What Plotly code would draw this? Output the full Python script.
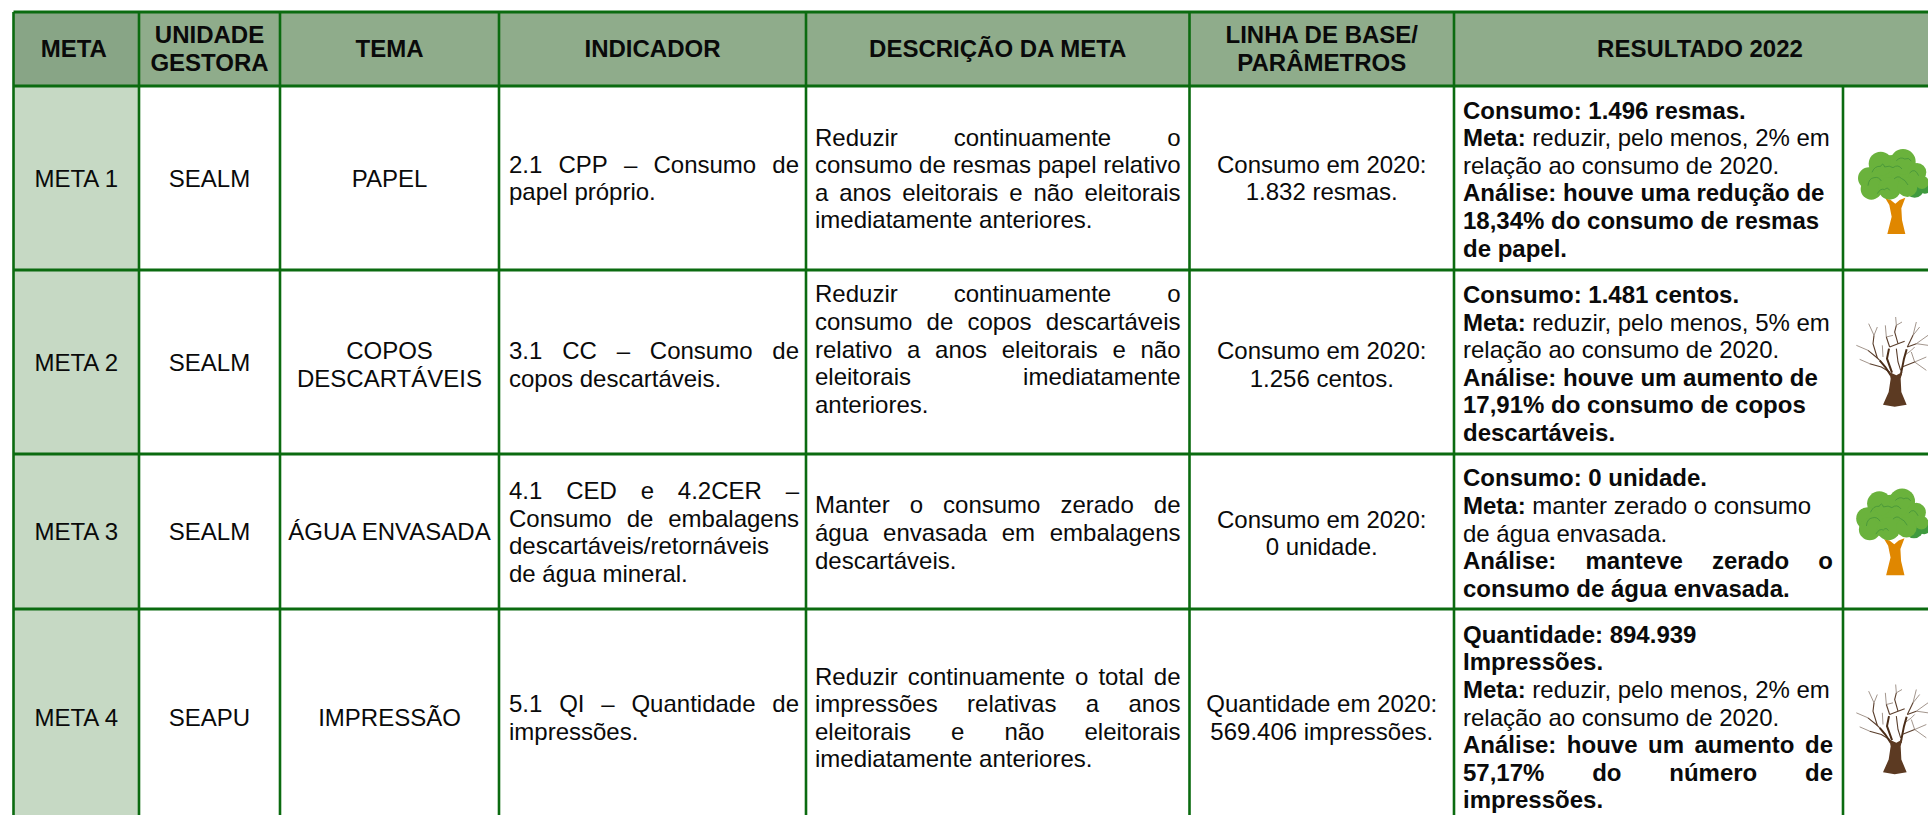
import plotly.graph_objects as go

# ---------- chart content ----------
HEADERS = [["META"], ["UNIDADE", "GESTORA"], ["TEMA"], ["INDICADOR"], ["DESCRIÇÃO DA META"],
           ["LINHA DE BASE/", "PARÂMETROS"], ["RESULTADO 2022"]]
META = ["META 1", "META 2", "META 3", "META 4"]
UNIDADE = ["SEALM", "SEALM", "SEALM", "SEAPU"]
TEMA = [["PAPEL"], ["COPOS", "DESCARTÁVEIS"], ["ÁGUA ENVASADA"], ["IMPRESSÃO"]]
# A line starting with "|" is justified across the cell.
INDICADOR = [
    ["|2.1 CPP – Consumo de", "papel próprio."],
    ["|3.1 CC – Consumo de", "copos descartáveis."],
    ["|4.1 CED e 4.2CER –", "|Consumo de embalagens", "descartáveis/retornáveis", "de água mineral."],
    ["|5.1 QI – Quantidade de", "impressões."],
]
DESCRICAO = [
    ["|Reduzir continuamente o", "|consumo de resmas papel relativo", "|a anos eleitorais e não eleitorais",
     "imediatamente anteriores."],
    ["|Reduzir continuamente o", "|consumo de copos descartáveis", "|relativo a anos eleitorais e não",
     "|eleitorais imediatamente", "anteriores."],
    ["|Manter o consumo zerado de", "|água envasada em embalagens", "descartáveis."],
    ["|Reduzir continuamente o total de", "|impressões relativas a anos", "|eleitorais e não eleitorais",
     "imediatamente anteriores."],
]
BASE = [
    ["Consumo em 2020:", "1.832 resmas."],
    ["Consumo em 2020:", "1.256 centos."],
    ["Consumo em 2020:", "0 unidade."],
    ["Quantidade em 2020:", "569.406 impressões."],
]
RESULTADO = [
    ["<b>Consumo: 1.496 resmas.</b>", "<b>Meta:</b> reduzir, pelo menos, 2% em", "relação ao consumo de 2020.",
     "<b>Análise: houve uma redução de</b>", "<b>18,34% do consumo de resmas</b>", "<b>de papel.</b>"],
    ["<b>Consumo: 1.481 centos.</b>", "<b>Meta:</b> reduzir, pelo menos, 5% em", "relação ao consumo de 2020.",
     "<b>Análise: houve um aumento de</b>", "<b>17,91% do consumo de copos</b>", "<b>descartáveis.</b>"],
    ["<b>Consumo: 0 unidade.</b>", "<b>Meta:</b> manter zerado o consumo", "de água envasada.",
     "|<b>Análise: manteve zerado o</b>", "<b>consumo de água envasada.</b>"],
    ["<b>Quantidade: 894.939</b>", "<b>Impressões.</b>", "<b>Meta:</b> reduzir, pelo menos, 2% em",
     "relação ao consumo de 2020.", "|<b>Análise: houve um aumento de</b>", "|<b>57,17% do número de</b>",
     "<b>impressões.</b>"],
]
TREE_ALIVE = [True, False, True, False]

# ---------- layout ----------
W, H = 1928, 815
COL = [13.5, 139, 280, 499, 806, 1189.5, 1454, 1843, 1946]
ROW = [12, 86, 270, 454, 609, 825]
FS = 24
LH = 27.6
YOFF = 2.5
LINE = "#0b6b10"
HEAD_FILL = "#8fac8b"
HEAD_FILL_FIRST = "#88a586"
META_FILL = "#c6d9c4"
INK = "#0a0a0a"

REG = dict(zip("abcdefghijklmnopqrstuvwxyz",
               [556,556,500,556,556,278,556,556,222,222,500,222,833,556,556,556,556,333,500,278,556,500,722,500,500,500]))
REG.update(zip("ABCDEFGHIJKLMNOPQRSTUVWXYZ",
               [667,667,722,722,667,611,778,722,278,500,667,556,833,722,778,667,778,722,667,611,722,667,944,667,667,611]))
BOLD = dict(zip("abcdefghijklmnopqrstuvwxyz",
                [556,611,556,611,556,333,611,611,278,278,556,278,889,611,611,611,611,389,556,333,611,556,778,556,556,500]))
BOLD.update(zip("ABCDEFGHIJKLMNOPQRSTUVWXYZ",
                [722,722,722,722,667,611,778,722,278,556,722,611,833,722,778,667,778,722,667,611,722,667,944,667,667,611]))
for t in (REG, BOLD):
    t.update({c: 556 for c in "0123456789–"})
    t.update({",": 278, ".": 278, "/": 278, "%": 889, " ": 278})
REG[":"] = 278
BOLD[":"] = 333
PLAIN = str.maketrans("áàâãéêíóôõúçÁÂÃÉÍÓÔÕÚÇ", "aaaaeeiooouc" + "AAAEIOOOUC")


def width(word, bold):
    tab = BOLD if bold else REG
    return sum(tab.get(c, 556) for c in word.translate(PLAIN)) * FS / 1000


xs, ys, texts, pos = [], [], [], []


def put(x, y, s, p):
    xs.append(x)
    ys.append(y + YOFF)
    texts.append(s)
    pos.append(p)


def block(lines, x0, x1, yc, align):
    y0 = yc - (len(lines) - 1) * LH / 2
    for i, ln in enumerate(lines):
        y = y0 + i * LH
        if ln.startswith("|"):
            raw = ln[1:]
            bold = raw.startswith("<b>")
            raw = raw.replace("<b>", "").replace("</b>", "")
            words = raw.split(" ")
            ws = [width(w, bold) for w in words]
            gap = (x1 - x0 - sum(ws)) / (len(words) - 1)
            x = x0
            for w, wd in zip(words, ws):
                put(x, y, f"<b>{w}</b>" if bold else w, "middle right")
                x += wd + gap
        elif align == "left":
            put(x0, y, ln, "middle right")
        else:
            put((x0 + x1) / 2, y, ln, "middle center")


for c, hdr in enumerate(HEADERS):
    left = COL[c] - (5 if c == 0 else 0)
    block([f"<b>{s}</b>" for s in hdr], left, COL[c + 1] if c < 6 else COL[8], 48.5, "center")
C_CELL = [178, 362, 531.5, 717]
C_TEXT = [178, 364.5, 533, 717.5]
C_IND = [178, 364.5, 532, 717.5]
C_DESC = [178.5, 349, 532.5, 717.5]
C_RES = [179, 363.5, 533, 717]
for r, yc in enumerate(C_CELL):
    block([META[r]], COL[0], COL[1], yc, "center")
    block([UNIDADE[r]], COL[1], COL[2], yc, "center")
    block(TEMA[r], COL[2], COL[3], C_TEXT[r] if r == 1 else yc, "center")
    block(INDICADOR[r], COL[3] + 10, COL[4] - 7, C_IND[r], "left")
    block(DESCRICAO[r], COL[4] + 9, COL[5] - 9, C_DESC[r], "left")
    block(BASE[r], COL[5], COL[6], C_TEXT[r], "center")
    block(RESULTADO[r], COL[6] + 9, COL[7] - 10, C_RES[r], "left")

fig = go.Figure(go.Scatter(x=xs, y=ys, text=texts, mode="text", textposition=pos, cliponaxis=False,
                           textfont=dict(family="Liberation Sans", size=FS, color=INK),
                           hoverinfo="skip", showlegend=False))

shapes = []


def rect(x0, y0, x1, y1, fill):
    shapes.append(dict(type="rect", x0=x0, y0=y0, x1=x1, y1=y1, fillcolor=fill, line_width=0, layer="below"))


def seg(x0, y0, x1, y1, w=2.6, c=LINE, layer="below"):
    shapes.append(dict(type="line", x0=x0, y0=y0, x1=x1, y1=y1, line=dict(color=c, width=w), layer=layer))


rect(COL[0], ROW[0], W + 20, ROW[1], HEAD_FILL)
rect(COL[0], ROW[0], COL[1], ROW[1], HEAD_FILL_FIRST)
rect(COL[0], ROW[1], COL[1], H + 10, META_FILL)
for i, yy in enumerate(ROW[:-1]):
    seg(COL[0], yy, W + 20, yy, 3)
for i, xx in enumerate(COL[:-1]):
    seg(xx, ROW[1] if xx == COL[7] else ROW[0], xx, H + 10, 2.6)


# ---------- tree icons (shape outlines in icon-local units, 3 units = 1 px) ----------
def T(ox, oy, k, x, y):
    return ox + x * k, oy + y * k


def poly_path(pts, ox, oy, k):
    return "M" + " L".join("%.2f,%.2f" % T(ox, oy, k, *p) for p in pts)


LOBES = [(135, 85, 55), (100, 95, 45), (175, 90, 45),
         (98, 56, 36), (165, 50, 38), (207, 82, 28), (63, 100, 33), (70, 132, 32), (125, 130, 34), (178, 126, 30), (222, 112, 20)]
SHADE = [(200, 130, 28), (230, 124, 22)]
CURLS = ["M60,122 Q62,100 78,98 Q92,94 100,108", "M72,82 Q80,62 98,64 Q105,50 110,66 Q125,60 135,68 Q150,56 162,72",
         "M145,47 Q158,34 170,42 Q182,36 190,48", "M88,146 Q98,128 110,134 Q118,124 125,136",
         "M138,102 Q150,90 160,100 Q172,104 180,120", "M185,84 Q200,66 212,92"]


def alive(ox, oy, k):
    for (cx, cy, r) in SHADE:
        x, y = T(ox, oy, k, cx, cy)
        shapes.append(dict(type="circle", x0=x - r * k, x1=x + r * k, y0=y - r * k, y1=y + r * k,
                           fillcolor="#3f9a3f", line_width=0, layer="above"))
    trunk = [(112, 160), (124, 180), (131, 215), (118, 267), (172, 267), (162, 225), (160, 190), (172, 158), (155, 165), (142, 176), (128, 165)]
    shapes.append(dict(type="path", path=poly_path(trunk, ox, oy, k) + " Z", fillcolor="#e08700", line_width=0, layer="above"))
    for (cx, cy, r) in LOBES:
        x, y = T(ox, oy, k, cx, cy)
        shapes.append(dict(type="circle", x0=x - r * k, x1=x + r * k, y0=y - r * k, y1=y + r * k,
                           fillcolor="#6ab23c", line_width=0, layer="above"))
    for d in CURLS:
        out = []
        for tok in d.replace("M", "M ").replace("Q", "Q ").split():
            if tok in "MQ":
                out.append(tok)
            else:
                a, b = map(float, tok.split(","))
                out.append("%.2f,%.2f" % T(ox, oy, k, a, b))
        shapes.append(dict(type="path", path=" ".join(out), line=dict(color="#3f8f3a", width=0.7), layer="above"))


THICK = [[(128, 190), (112, 165), (95, 145)], [(158, 190), (168, 140), (176, 112)], [(132, 182), (117, 140), (123, 110)]]
MID = [[(95, 145), (88, 138), (60, 115)], [(125, 180), (100, 165), (65, 155)], [(88, 138), (75, 95), (78, 70)],
       [(125, 105), (150, 95), (170, 88)], [(125, 105), (115, 75)], [(150, 95), (140, 60), (145, 40)],
       [(178, 105), (205, 95)], [(178, 105), (195, 70)], [(162, 165), (200, 150)], [(158, 175), (150, 150), (145, 110)]]
THIN = [[(60, 115), (25, 100)], [(65, 155), (35, 142)], [(78, 70), (62, 35)], [(78, 70), (88, 45)], [(105, 135), (103, 100)],
        [(115, 75), (112, 40)], [(145, 40), (143, 15)], [(145, 40), (162, 30)], [(115, 75), (135, 70)], [(205, 95), (240, 100)],
        [(195, 70), (215, 45)], [(195, 70), (205, 30)], [(205, 95), (240, 70)], [(200, 150), (235, 135)], [(200, 150), (190, 120)],
        [(200, 150), (235, 175)], [(170, 130), (190, 115), (200, 105)]]


def bare(ox, oy, k):
    for group, w, c in ((THIN, 0.7, "#7a675a"), (MID, 1.1, "#5a3e2c"), (THICK, 2.0, "#4a2c17")):
        for pts in group:
            shapes.append(dict(type="path", path=poly_path(pts, ox, oy, k), line=dict(color=c, width=w), layer="above"))
    trunk = [(124, 180), (145, 190), (163, 180), (158, 200), (160, 240), (176, 278), (140, 284), (105, 278), (122, 240), (128, 200)]
    shapes.append(dict(type="path", path=poly_path(trunk, ox, oy, k) + " Z", fillcolor="#5c3a22", line_width=0, layer="above"))


ICON_Y = {0: 145, 1: 312, 2: 484.5, 3: 679.5}
for r, ok in enumerate(TREE_ALIVE):
    if ok:
        alive(1848 if r == 0 else 1846, ICON_Y[r], 1 / 3 if r == 0 else 1.02 / 3)
    else:
        bare(1848, ICON_Y[r], 1 / 3)

fig.update_layout(
    width=W, height=H, margin=dict(l=0, r=0, t=0, b=0, pad=0), paper_bgcolor="white", plot_bgcolor="white",
    shapes=shapes,
    xaxis=dict(range=[0, W], visible=False, fixedrange=True),
    yaxis=dict(range=[H, 0], visible=False, fixedrange=True),
)
fig.write_html("out.html", config={"displayModeBar": False},
               post_script="document.body.style.margin='0';document.documentElement.style.overflow='hidden';")
